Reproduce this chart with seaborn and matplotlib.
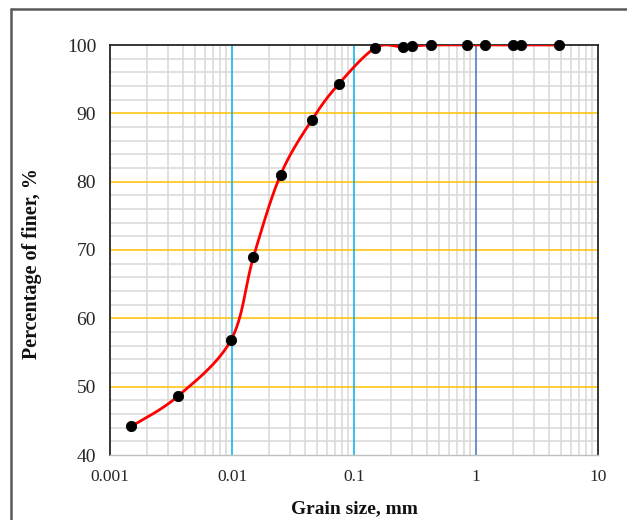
import numpy as np
import pandas as pd
import matplotlib
matplotlib.use("Agg")
import matplotlib.pyplot as plt
import seaborn as sns
from matplotlib.lines import Line2D
from matplotlib.ticker import FixedLocator, NullFormatter

# Data
grain_size = [0.0015, 0.0036, 0.0098, 0.015, 0.025, 0.045, 0.075, 0.15,
              0.25, 0.30, 0.425, 0.85, 1.18, 2.0, 2.36, 4.75]
percent_finer = [44.2, 48.6, 56.8, 69.0, 81.0, 89.0, 94.3, 99.6,
                 99.7, 99.85, 100, 100, 100, 100, 100, 100]
x_ticks = [0.001, 0.01, 0.1, 1, 10]
x_tick_labels = ["0.001", "0.01", "0.1", "1", "10"]
y_ticks = [40, 50, 60, 70, 80, 90, 100]

df = pd.DataFrame({"size": grain_size, "finer": percent_finer})

sns.set_style("white")
plt.rcParams["font.family"] = ["Liberation Serif", "DejaVu Serif"]

fig = plt.figure(figsize=(6.27, 5.20), dpi=100)
ax = fig.add_axes([110 / 627, 1 - 455 / 520, 488 / 627, 410 / 520])

ax.set_xscale("log")
ax.set_xlim(0.001, 10)
ax.set_ylim(40, 100)

# Grid: vertical minor lines
minor_x = [m * 10.0 ** e for e in range(-3, 1) for m in range(2, 10)]
for v in minor_x:
    ax.axvline(v, color="#d9d9d9", lw=1.1, zorder=0)
# horizontal minor every 2
for h in np.arange(42, 100, 2):
    if h % 10 != 0:
        ax.axhline(h, color="#d9d9d9", lw=1.1, zorder=0)
for h in [50, 60, 70, 80, 90]:
    ax.axhline(h, color="#ffc000", lw=1.1, zorder=1)
ax.axvline(0.01, color="#00b0f0", lw=1.1, zorder=1)
ax.axvline(0.1, color="#00b0f0", lw=1.1, zorder=1)
ax.axvline(1, color="#4472c4", lw=1.1, zorder=1)

# Smoothed line (Catmull-Rom / Excel-like) through the data in (log x, y)
lx = np.log10(df["size"].to_numpy())
yy = df["finer"].to_numpy()
P = np.column_stack([lx, yy])
n = len(P)
curve = []
t = np.linspace(0, 1, 30)
for i in range(n - 1):
    p0 = P[i - 1] if i > 0 else P[i]
    p1 = P[i]
    p2 = P[i + 1]
    p3 = P[i + 2] if i + 2 < n else P[i + 1]
    c1 = p1 + (p2 - p0) / 6.0
    c2 = p2 - (p3 - p1) / 6.0
    seg = ((1 - t)[:, None] ** 3 * p1 + 3 * ((1 - t) ** 2 * t)[:, None] * c1
           + 3 * ((1 - t) * t ** 2)[:, None] * c2 + (t ** 3)[:, None] * p2)
    curve.append(seg)
curve = np.vstack(curve)
ax.plot(10 ** curve[:, 0], curve[:, 1], color="#ff0000", lw=2.0, zorder=3,
        solid_capstyle="round")

sns.scatterplot(data=df, x="size", y="finer", ax=ax, color="black", s=55,
                edgecolor="black", zorder=4, clip_on=False, legend=False)

# Ticks
ax.xaxis.set_major_locator(FixedLocator(x_ticks))
ax.set_xticklabels(x_tick_labels)
ax.xaxis.set_minor_locator(FixedLocator(minor_x))
ax.xaxis.set_minor_formatter(NullFormatter())
ax.set_yticks(y_ticks)
ax.tick_params(axis="x", which="major", length=0, pad=10, labelsize=12.5,
               labelcolor="#262626")
ax.tick_params(axis="x", which="minor", length=5, color="#bfbfbf", width=1)
ax.tick_params(axis="y", which="both", length=0, pad=10, labelsize=14,
               labelcolor="#262626")

for s in ["left", "top", "right"]:
    ax.spines[s].set_color("#262626")
    ax.spines[s].set_linewidth(1.3)
ax.spines["bottom"].set_color("#bfbfbf")
ax.spines["bottom"].set_linewidth(1.0)

ax.set_xlabel("Grain size, mm", fontsize=14, fontweight="bold", labelpad=11,
              color="#111111")
ax.set_ylabel("Percentage of finer, %", fontsize=14.5, fontweight="bold",
              color="#111111")
ax.yaxis.set_label_coords(-0.139, 0.468)

# Outer frame (extends off the right and bottom edges)
fig.add_artist(Line2D([11 / 627, 1.01], [1 - 9 / 520, 1 - 9 / 520],
                      transform=fig.transFigure, color="#595959", lw=1.8))
fig.add_artist(Line2D([11 / 627, 11 / 627], [1 - 9 / 520, -0.01],
                      transform=fig.transFigure, color="#595959", lw=1.8))

fig.savefig("out.png", dpi=100)
